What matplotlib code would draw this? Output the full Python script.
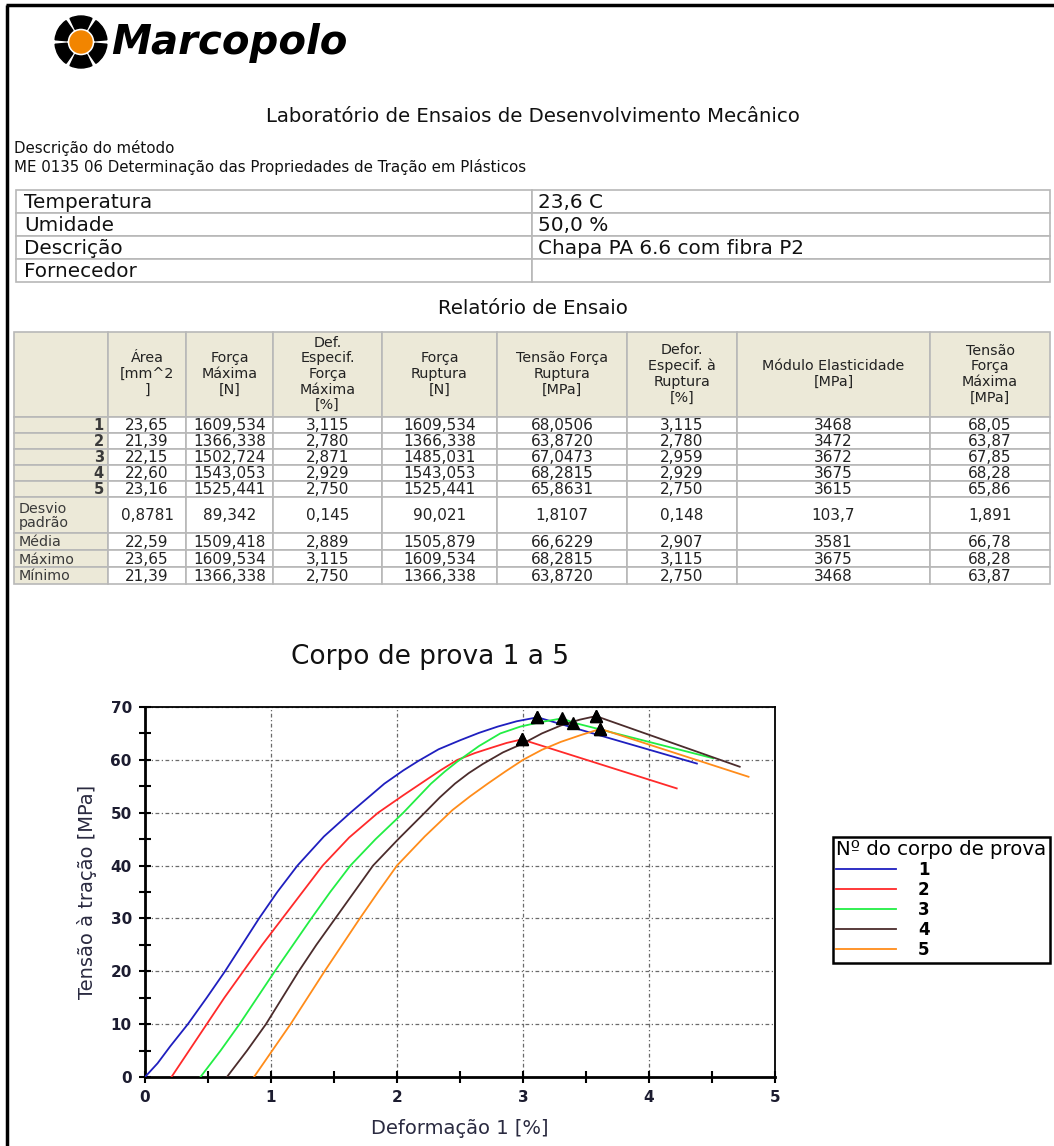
"""
Relatório de ensaio de tração - corpos de prova 1 a 5
"""
# Importar librerias necesarias
import matplotlib
matplotlib.use('Agg')
import matplotlib.pyplot as plt
from matplotlib.patches import Rectangle, Circle, Wedge
from matplotlib.ticker import MultipleLocator

# Condições do ensaio
info_rotulos = ['Temperatura', 'Umidade', 'Descrição', 'Fornecedor']
info_valores = ['23,6 C', '50,0 %', 'Chapa PA 6.6 com fibra P2', '']

# Resultados por corpo de prova
corpos = ['1', '2', '3', '4', '5']
area = [23.65, 21.39, 22.15, 22.60, 23.16]
forca_max = [1609.534, 1366.338, 1502.724, 1543.053, 1525.441]
def_forca_max = [3.115, 2.780, 2.871, 2.929, 2.750]
forca_rup = [1609.534, 1366.338, 1485.031, 1543.053, 1525.441]
tensao_rup = [68.0506, 63.8720, 67.0473, 68.2815, 65.8631]
def_rup = [3.115, 2.780, 2.959, 2.929, 2.750]
modulo = [3468, 3472, 3672, 3675, 3615]
tensao_max = [68.05, 63.87, 67.85, 68.28, 65.86]

# Estatisticas (como impressas no relatório)
estat_rotulos = ['Desvio\npadrão', 'Média', 'Máximo', 'Mínimo']
desvio = ['0,8781', '89,342', '0,145', '90,021', '1,8107', '0,148', '103,7', '1,891']
media = ['22,59', '1509,418', '2,889', '1505,879', '66,6229', '2,907', '3581', '66,78']
maximo = ['23,65', '1609,534', '3,115', '1609,534', '68,2815', '3,115', '3675', '68,28']
minimo = ['21,39', '1366,338', '2,750', '1366,338', '63,8720', '2,750', '3468', '63,87']

cabecalhos = ['', 'Área\n[mm^2\n]', 'Força\nMáxima\n[N]',
              'Def.\nEspecif.\nForça\nMáxima\n[%]', 'Força\nRuptura\n[N]',
              'Tensão Força\nRuptura\n[MPa]', 'Defor.\nEspecif. à\nRuptura\n[%]',
              'Módulo Elasticidade\n[MPa]', 'Tensão\nForça\nMáxima\n[MPa]']

# Curvas tensão x deformação
deform_1 = [0, 0.1, 0.2, 0.34, 0.49, 0.635, 0.77, 0.905, 1.05, 1.21, 1.42, 1.63, 1.9, 2.05,
            2.17, 2.33, 2.5, 2.65, 2.8, 2.95, 3.115, 4.38]
tensao_1 = [0, 2.6, 5.8, 10, 15, 20, 25, 30, 35, 40, 45.5, 50, 55.5, 58, 59.8, 62, 63.7, 65.1,
            66.3, 67.3, 68.05, 59.3]
deform_2 = [0.21, 0.35, 0.49, 0.63, 0.78, 0.93, 1.09, 1.25, 1.41, 1.62, 1.85, 2.05, 2.2, 2.35,
            2.48, 2.62, 2.75, 2.87, 2.99, 4.22]
tensao_2 = [0, 5, 10, 15, 20, 25, 30, 35, 40, 45.3, 50, 53.3, 55.7, 58.1, 60, 61.3, 62.3, 63.2,
            63.87, 54.6]
deform_3 = [0.44, 0.6, 0.75, 0.89, 1.03, 1.175, 1.32, 1.47, 1.63, 1.83, 2.05, 2.17, 2.27, 2.38,
            2.48, 2.65, 2.82, 2.98, 3.13, 3.311, 3.399, 4.51]
tensao_3 = [0, 5, 10, 15, 20, 25, 30, 35, 40, 45, 50, 53, 55.5, 57.8, 59.7, 62.6, 65, 66.3,
            67.1, 67.85, 67.05, 60.3]
deform_4 = [0.65, 0.81, 0.96, 1.09, 1.22, 1.36, 1.51, 1.66, 1.81, 2.01, 2.22, 2.34, 2.46, 2.57,
            2.68, 2.84, 3.0, 3.15, 3.3, 3.45, 3.579, 4.72]
tensao_4 = [0, 5, 10, 15, 20, 25, 30, 35, 40, 45, 50, 52.9, 55.5, 57.5, 59.2, 61.4, 63.1, 65,
            66.5, 67.6, 68.28, 58.7]
deform_5 = [0.865, 1.01, 1.155, 1.29, 1.425, 1.565, 1.705, 1.85, 2.0, 2.22, 2.44, 2.58, 2.72,
            2.86, 3.0, 3.15, 3.3, 3.46, 3.615, 4.79]
tensao_5 = [0, 5, 10, 15, 20, 25, 30, 35, 40, 45.5, 50.5, 53.1, 55.5, 57.8, 60, 61.9, 63.4,
            64.7, 65.86, 56.8]

deformacoes = [deform_1, deform_2, deform_3, deform_4, deform_5]
tensoes = [tensao_1, tensao_2, tensao_3, tensao_4, tensao_5]
cores = ['#1f1fbf', '#ff2a2a', '#22ee44', '#4b2c2c', '#ff8c1a']

plt.rcParams['font.family'] = 'DejaVu Sans'

fig = plt.figure(figsize=(10.54, 11.46), dpi=100)

# Folha em coordenadas de pixel
page = fig.add_axes([0, 0, 1, 1])
page.set_xlim(0, 1054)
page.set_ylim(1146, 0)
page.axis('off')

# Moldura
page.plot([6, 1054], [5, 5], color='black', lw=2.5, solid_capstyle='butt')
page.plot([7, 7], [5, 1146], color='black', lw=2.5, solid_capstyle='butt')

# Logotipo
page.add_patch(Circle((81, 42), 11, color='#f28500'))
for ang in range(30, 390, 60):
    page.add_patch(Wedge((81, 42), 26, ang - 25, ang + 25, width=12, color='black'))
page.text(111, 43, 'Marcopolo', fontsize=29, fontweight='bold', style='italic',
          va='center', ha='left', color='black')

cor_txt = '#111111'
page.text(533, 116, 'Laboratório de Ensaios de Desenvolvimento Mecânico',
          fontsize=14.2, ha='center', va='center', color=cor_txt)
page.text(14, 148, 'Descrição do método', fontsize=10.8, va='center', color=cor_txt)
page.text(14, 167, 'ME 0135 06 Determinação das Propriedades de Tração em Plásticos',
          fontsize=10.8, va='center', color=cor_txt)


def celula(x0, x1, y0, y1, face='white'):
    page.add_patch(Rectangle((x0, y0), x1 - x0, y1 - y0, facecolor=face,
                             edgecolor='#b8b8b8', lw=1.2))


# Tabela de condições
info_y = [190, 213, 236, 259, 282]
for i, (rot, val) in enumerate(zip(info_rotulos, info_valores)):
    y0, y1 = info_y[i], info_y[i + 1]
    celula(16, 532, y0, y1)
    celula(532, 1050, y0, y1)
    page.text(24, (y0 + y1) / 2 + 1, rot, fontsize=14.4, va='center', color=cor_txt)
    page.text(538, (y0 + y1) / 2 + 1, val, fontsize=14.4, va='center', color=cor_txt)

page.text(533, 309, 'Relatório de Ensaio', fontsize=14.2, ha='center', va='center',
          color=cor_txt)

# Tabela de resultados
col_x = [14, 108, 186, 273, 382, 497, 627, 737, 930, 1050]
lin_y = [332, 417, 433, 449, 465, 481, 497, 533, 550, 567, 584]
bege = '#ece9d8'
texto = '#222222'

for j, cab in enumerate(cabecalhos):
    celula(col_x[j], col_x[j + 1], lin_y[0], lin_y[1], bege)
    page.text((col_x[j] + col_x[j + 1]) / 2, 374, cab, fontsize=10.3, ha='center',
              va='center', linespacing=1.15, color=texto)

decimais = [2, 3, 3, 3, 4, 3, 0, 2]
colunas = [area, forca_max, def_forca_max, forca_rup, tensao_rup, def_rup, modulo, tensao_max]


def fmt(v, d):
    return f'{v:.{d}f}'.replace('.', ',')


linhas = []
for i in range(5):
    linhas.append([fmt(c[i], d) for c, d in zip(colunas, decimais)])
linhas += [desvio, media, maximo, minimo]
rotulos = corpos + estat_rotulos

for i, (rot, valores) in enumerate(zip(rotulos, linhas)):
    y0, y1 = lin_y[i + 1], lin_y[i + 2]
    yc = (y0 + y1) / 2 + 1
    celula(col_x[0], col_x[1], y0, y1, bege)
    if i < 5:
        page.text(col_x[1] - 4, yc, rot, fontsize=10.5, fontweight='bold', ha='right',
                  va='center', color='#3a3a3a')
    else:
        page.text(col_x[0] + 5, yc, rot, fontsize=10.3, ha='left', va='center',
                  linespacing=1.0, color='#3a3a3a')
    for j, val in enumerate(valores):
        celula(col_x[j + 1], col_x[j + 2], y0, y1)
        page.text((col_x[j + 1] + col_x[j + 2]) / 2, yc, val, fontsize=11,
                  ha='center', va='center', color=texto)

# Grafico tensão x deformação
page.text(430, 657, 'Corpo de prova 1 a 5', fontsize=19, ha='center', va='center',
          color=cor_txt)

ax = fig.add_axes([145 / 1054, 1 - 1077 / 1146, 630 / 1054, 370 / 1146])
linhas_graf = []
for k in range(5):
    ln, = ax.plot(deformacoes[k], tensoes[k], color=cores[k], lw=1.3, zorder=3)
    linhas_graf.append(ln)
    x0 = deformacoes[k][0]
    ax.plot([x0 + def_forca_max[k], x0 + def_rup[k]], [tensao_max[k], tensao_rup[k]],
            linestyle='none', marker='^', color='black', markersize=8, zorder=4)

ax.set_xlim(0, 5)
ax.set_ylim(0, 70)
ax.xaxis.set_major_locator(MultipleLocator(1))
ax.xaxis.set_minor_locator(MultipleLocator(0.5))
ax.yaxis.set_major_locator(MultipleLocator(10))
ax.yaxis.set_minor_locator(MultipleLocator(5))
ax.grid(True, which='major', color='#6a6a6a', lw=0.9, linestyle=(0, (3, 2, 1, 2)))
ax.tick_params(which='both', direction='inout', length=9, width=1.5, top=False,
               right=False, labelsize=11, labelcolor='#1c1c30', pad=5)
for lab in ax.get_xticklabels() + ax.get_yticklabels():
    lab.set_fontweight('bold')
for lado in ['left', 'bottom']:
    ax.spines[lado].set_linewidth(2)
for lado in ['top', 'right']:
    ax.spines[lado].set_linewidth(1.3)
ax.set_xlabel('Deformação 1 [%]', fontsize=14, color='#2a2a40', labelpad=10)
ax.set_ylabel('Tensão à tração [MPa]', fontsize=14, color='#2a2a40', labelpad=10)

leg = fig.legend(linhas_graf, corpos, title='Nº do corpo de prova', loc='upper left',
                 bbox_to_anchor=(833 / 1054, 1 - 837 / 1146), frameon=True,
                 fancybox=False, edgecolor='black', framealpha=1, fontsize=12,
                 title_fontsize=14.2, handlelength=3.6, handletextpad=1.3,
                 labelspacing=0.12, borderpad=0.2, borderaxespad=0, alignment='left')
leg.get_frame().set_linewidth(1.8)
for t in leg.get_texts():
    t.set_fontweight('bold')

plt.savefig('out.png', dpi=100)
